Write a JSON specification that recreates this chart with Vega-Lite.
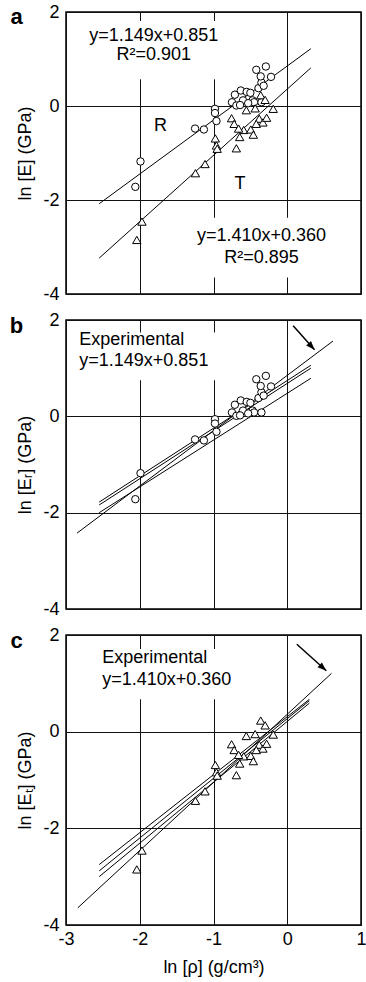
{
  "$schema": "https://vega.github.io/schema/vega-lite/v6.json",
  "padding": {"left": 9, "top": 2, "right": 3, "bottom": 5},
  "background": "white",
  "datasets": {
    "R": [
      {"x": -1.99, "y": -1.18}, {"x": -2.06, "y": -1.72}, {"x": -1.25, "y": -0.48}, {"x": -1.13, "y": -0.50},
      {"x": -0.98, "y": -0.06}, {"x": -0.98, "y": -0.15}, {"x": -0.96, "y": -0.32}, {"x": -0.75, "y": 0.08},
      {"x": -0.71, "y": 0.24}, {"x": -0.69, "y": 0.01}, {"x": -0.63, "y": 0.33}, {"x": -0.60, "y": 0.12},
      {"x": -0.55, "y": 0.30}, {"x": -0.50, "y": 0.28}, {"x": -0.47, "y": 0.12}, {"x": -0.45, "y": 0.08},
      {"x": -0.53, "y": 0.06}, {"x": -0.39, "y": 0.38}, {"x": -0.35, "y": 0.50}, {"x": -0.36, "y": 0.63},
      {"x": -0.42, "y": 0.77}, {"x": -0.29, "y": 0.84}, {"x": -0.22, "y": 0.62}, {"x": -0.32, "y": 0.43},
      {"x": -0.35, "y": 0.08}, {"x": -0.64, "y": 0.02}
    ],
    "T": [
      {"x": -2.04, "y": -2.85}, {"x": -1.97, "y": -2.46}, {"x": -1.245, "y": -1.43}, {"x": -1.115, "y": -1.235},
      {"x": -0.975, "y": -0.69}, {"x": -0.96, "y": -0.84}, {"x": -0.95, "y": -0.91}, {"x": -0.755, "y": -0.26},
      {"x": -0.72, "y": -0.38}, {"x": -0.69, "y": -0.90}, {"x": -0.645, "y": -0.66}, {"x": -0.59, "y": -0.51},
      {"x": -0.555, "y": -0.09}, {"x": -0.495, "y": -0.50}, {"x": -0.46, "y": -0.61}, {"x": -0.435, "y": -0.05},
      {"x": -0.38, "y": -0.27}, {"x": -0.36, "y": 0.23}, {"x": -0.30, "y": 0.13}, {"x": -0.33, "y": -0.35},
      {"x": -0.28, "y": -0.25}, {"x": -0.19, "y": -0.06}, {"x": -0.66, "y": -0.48}, {"x": -0.42, "y": -0.38}
    ],
    "lines": [
      {"panel": "a", "x1": -2.55, "y1": -2.079, "x2": 0.32, "y2": 1.219},
      {"panel": "a", "x1": -2.55, "y1": -3.236, "x2": 0.32, "y2": 0.811},
      {"panel": "b", "x1": -2.85, "y1": -2.424, "x2": 0.62, "y2": 1.563},
      {"panel": "b", "x1": -2.55, "y1": -1.78, "x2": 0.32, "y2": 1.06},
      {"panel": "b", "x1": -2.55, "y1": -1.84, "x2": 0.32, "y2": 1.0},
      {"panel": "b", "x1": -2.55, "y1": -2.0, "x2": 0.32, "y2": 0.79},
      {"panel": "c", "x1": -2.84, "y1": -3.644, "x2": 0.6, "y2": 1.206},
      {"panel": "c", "x1": -2.55, "y1": -2.75, "x2": 0.30, "y2": 0.67},
      {"panel": "c", "x1": -2.55, "y1": -2.88, "x2": 0.30, "y2": 0.64},
      {"panel": "c", "x1": -2.55, "y1": -3.0, "x2": 0.30, "y2": 0.59}
    ],
    "boxes": [
      {"panel": "a", "bx1": -2.75, "bx2": -0.88, "by1": 0.57, "by2": 1.81},
      {"panel": "a", "bx1": -1.25, "bx2": 0.6, "by1": -3.65, "by2": -2.38},
      {"panel": "b", "bx1": -2.85, "bx2": -0.9, "by1": 0.75, "by2": 1.74},
      {"panel": "c", "bx1": -2.6, "bx2": -0.7, "by1": 0.67, "by2": 1.71}
    ],
    "arrows": [
      {"panel": "b", "x1": 0.08, "y1": 1.88, "x2": 0.37, "y2": 1.38, "angle": 138},
      {"panel": "c", "x1": 0.13, "y1": 1.81, "x2": 0.53, "y2": 1.26, "angle": 132}
    ],
    "textsA": [
      {"x": -1.81, "y": 1.49, "label": "y=1.149x+0.851"},
      {"x": -1.81, "y": 1.08, "label": "R²=0.901"},
      {"x": -1.72, "y": -0.43, "label": "R"},
      {"x": -0.64, "y": -1.67, "label": "T"},
      {"x": -0.35, "y": -2.77, "label": "y=1.410x+0.360"},
      {"x": -0.35, "y": -3.23, "label": "R²=0.895"}
    ],
    "textsLeft": [
      {"panel": "b", "x": -2.82, "y": 1.58, "label": "Experimental"},
      {"panel": "b", "x": -2.82, "y": 1.14, "label": "y=1.149x+0.851"},
      {"panel": "c", "x": -2.51, "y": 1.52, "label": "Experimental"},
      {"panel": "c", "x": -2.51, "y": 1.06, "label": "y=1.410x+0.360"}
    ],
    "panelLabels": [
      {"panel": "a", "x": -3.67, "y": 1.74, "label": "a"},
      {"panel": "b", "x": -3.67, "y": 1.74, "label": "b"},
      {"panel": "c", "x": -3.67, "y": 1.74, "label": "c"}
    ]
  },
  "vconcat": [
    {
      "width": 295, "height": 282,
      "layer": [
        {
          "data": {"name": "boxes"},
          "transform": [{"filter": "datum.panel == 'a'"}],
          "mark": {"type": "rect", "fill": "white", "stroke": null},
          "encoding": {
            "x": {"field": "bx1", "type": "quantitative"}, "x2": {"field": "bx2"},
            "y": {"field": "by1", "type": "quantitative"}, "y2": {"field": "by2"}
          }
        },
        {
          "data": {"name": "lines"},
          "transform": [{"filter": "datum.panel == 'a'"}],
          "mark": {"type": "rule", "color": "#000", "strokeWidth": 1},
          "encoding": {
            "x": {"field": "x1", "type": "quantitative", "scale": {"domain": [-3, 1], "nice": false, "zero": false},
                  "axis": {"values": [-3, -2, -1, 0, 1], "labels": false, "title": null}},
            "y": {"field": "y1", "type": "quantitative", "scale": {"domain": [-4, 2], "nice": false, "zero": false},
                  "axis": {"values": [-4, -2, 0, 2], "labelExpr": "'' + datum.value", "title": "ln [E] (GPa)"}},
            "x2": {"field": "x2"}, "y2": {"field": "y2"}
          }
        },
        {
          "data": {"name": "R"},
          "mark": {"type": "point", "shape": "circle", "filled": true, "fill": "white", "stroke": "#000", "strokeWidth": 1, "size": 55, "opacity": 1},
          "encoding": {
            "x": {"field": "x", "type": "quantitative"},
            "y": {"field": "y", "type": "quantitative"}
          }
        },
        {
          "data": {"name": "T"},
          "mark": {"type": "point", "shape": "triangle-up", "filled": true, "fill": "white", "stroke": "#000", "strokeWidth": 1, "size": 70, "opacity": 1},
          "encoding": {
            "x": {"field": "x", "type": "quantitative"},
            "y": {"field": "y", "type": "quantitative"}
          }
        },
        {
          "data": {"name": "textsA"},
          "mark": {"type": "text", "align": "center", "baseline": "middle"},
          "encoding": {
            "x": {"field": "x", "type": "quantitative"},
            "y": {"field": "y", "type": "quantitative"},
            "text": {"field": "label"}
          }
        },
        {
          "data": {"name": "panelLabels"},
          "transform": [{"filter": "datum.panel == 'a'"}],
          "mark": {"type": "text", "align": "center", "baseline": "alphabetic", "fontWeight": "bold", "fontSize": 22},
          "encoding": {
            "x": {"field": "x", "type": "quantitative"},
            "y": {"field": "y", "type": "quantitative"},
            "text": {"field": "label"}
          }
        }
      ]
    },
    {
      "width": 295, "height": 289,
      "layer": [
        {
          "data": {"name": "boxes"},
          "transform": [{"filter": "datum.panel == 'b'"}],
          "mark": {"type": "rect", "fill": "white", "stroke": null},
          "encoding": {
            "x": {"field": "bx1", "type": "quantitative"}, "x2": {"field": "bx2"},
            "y": {"field": "by1", "type": "quantitative"}, "y2": {"field": "by2"}
          }
        },
        {
          "data": {"name": "lines"},
          "transform": [{"filter": "datum.panel == 'b'"}],
          "mark": {"type": "rule", "color": "#000", "strokeWidth": 1},
          "encoding": {
            "x": {"field": "x1", "type": "quantitative", "scale": {"domain": [-3, 1], "nice": false, "zero": false},
                  "axis": {"values": [-3, -2, -1, 0, 1], "labels": false, "title": null}},
            "y": {"field": "y1", "type": "quantitative", "scale": {"domain": [-4, 2], "nice": false, "zero": false},
                  "axis": {"values": [-4, -2, 0, 2], "labelExpr": "'' + datum.value", "title": "ln [Eᵣ] (GPa)"}},
            "x2": {"field": "x2"}, "y2": {"field": "y2"}
          }
        },
        {
          "data": {"name": "arrows"},
          "transform": [{"filter": "datum.panel == 'b'"}],
          "mark": {"type": "rule", "color": "#000", "strokeWidth": 1.5},
          "encoding": {
            "x": {"field": "x1", "type": "quantitative"},
            "y": {"field": "y1", "type": "quantitative"},
            "x2": {"field": "x2"}, "y2": {"field": "y2"}
          }
        },
        {
          "data": {"name": "arrows"},
          "transform": [{"filter": "datum.panel == 'b'"}],
          "mark": {"type": "point", "shape": "M0,0L-0.4,1.1L0.4,1.1Z", "filled": true, "color": "#000", "size": 260, "opacity": 1},
          "encoding": {
            "x": {"field": "x2", "type": "quantitative"},
            "y": {"field": "y2", "type": "quantitative"},
            "angle": {"field": "angle", "type": "quantitative", "scale": null}
          }
        },
        {
          "data": {"name": "R"},
          "mark": {"type": "point", "shape": "circle", "filled": true, "fill": "white", "stroke": "#000", "strokeWidth": 1, "size": 55, "opacity": 1},
          "encoding": {
            "x": {"field": "x", "type": "quantitative"},
            "y": {"field": "y", "type": "quantitative"}
          }
        },
        {
          "data": {"name": "textsLeft"},
          "transform": [{"filter": "datum.panel == 'b'"}],
          "mark": {"type": "text", "align": "left", "baseline": "middle"},
          "encoding": {
            "x": {"field": "x", "type": "quantitative"},
            "y": {"field": "y", "type": "quantitative"},
            "text": {"field": "label"}
          }
        },
        {
          "data": {"name": "panelLabels"},
          "transform": [{"filter": "datum.panel == 'b'"}],
          "mark": {"type": "text", "align": "center", "baseline": "alphabetic", "fontWeight": "bold", "fontSize": 22},
          "encoding": {
            "x": {"field": "x", "type": "quantitative"},
            "y": {"field": "y", "type": "quantitative"},
            "text": {"field": "label"}
          }
        }
      ]
    },
    {
      "width": 295, "height": 290,
      "layer": [
        {
          "data": {"name": "boxes"},
          "transform": [{"filter": "datum.panel == 'c'"}],
          "mark": {"type": "rect", "fill": "white", "stroke": null},
          "encoding": {
            "x": {"field": "bx1", "type": "quantitative"}, "x2": {"field": "bx2"},
            "y": {"field": "by1", "type": "quantitative"}, "y2": {"field": "by2"}
          }
        },
        {
          "data": {"name": "lines"},
          "transform": [{"filter": "datum.panel == 'c'"}],
          "mark": {"type": "rule", "color": "#000", "strokeWidth": 1},
          "encoding": {
            "x": {"field": "x1", "type": "quantitative", "scale": {"domain": [-3, 1], "nice": false, "zero": false},
                  "axis": {"values": [-3, -2, -1, 0, 1], "labelExpr": "'' + datum.value", "title": "ln [ρ] (g/cm³)", "labelPadding": 5, "titlePadding": 10}},
            "y": {"field": "y1", "type": "quantitative", "scale": {"domain": [-4, 2], "nice": false, "zero": false},
                  "axis": {"values": [-4, -2, 0, 2], "labelExpr": "'' + datum.value", "title": "ln [Eₜ] (GPa)"}},
            "x2": {"field": "x2"}, "y2": {"field": "y2"}
          }
        },
        {
          "data": {"name": "arrows"},
          "transform": [{"filter": "datum.panel == 'c'"}],
          "mark": {"type": "rule", "color": "#000", "strokeWidth": 1.5},
          "encoding": {
            "x": {"field": "x1", "type": "quantitative"},
            "y": {"field": "y1", "type": "quantitative"},
            "x2": {"field": "x2"}, "y2": {"field": "y2"}
          }
        },
        {
          "data": {"name": "arrows"},
          "transform": [{"filter": "datum.panel == 'c'"}],
          "mark": {"type": "point", "shape": "M0,0L-0.4,1.1L0.4,1.1Z", "filled": true, "color": "#000", "size": 260, "opacity": 1},
          "encoding": {
            "x": {"field": "x2", "type": "quantitative"},
            "y": {"field": "y2", "type": "quantitative"},
            "angle": {"field": "angle", "type": "quantitative", "scale": null}
          }
        },
        {
          "data": {"name": "T"},
          "mark": {"type": "point", "shape": "triangle-up", "filled": true, "fill": "white", "stroke": "#000", "strokeWidth": 1, "size": 70, "opacity": 1},
          "encoding": {
            "x": {"field": "x", "type": "quantitative"},
            "y": {"field": "y", "type": "quantitative"}
          }
        },
        {
          "data": {"name": "textsLeft"},
          "transform": [{"filter": "datum.panel == 'c'"}],
          "mark": {"type": "text", "align": "left", "baseline": "middle"},
          "encoding": {
            "x": {"field": "x", "type": "quantitative"},
            "y": {"field": "y", "type": "quantitative"},
            "text": {"field": "label"}
          }
        },
        {
          "data": {"name": "panelLabels"},
          "transform": [{"filter": "datum.panel == 'c'"}],
          "mark": {"type": "text", "align": "center", "baseline": "alphabetic", "fontWeight": "bold", "fontSize": 22},
          "encoding": {
            "x": {"field": "x", "type": "quantitative"},
            "y": {"field": "y", "type": "quantitative"},
            "text": {"field": "label"}
          }
        }
      ]
    }
  ],
  "spacing": 26,
  "bounds": "flush",
  "config": {
    "view": {"stroke": "#000", "strokeWidth": 1.5},
    "axis": {
      "grid": true, "gridColor": "#111", "gridWidth": 1, "gridOpacity": 1,
      "domain": false, "ticks": false,
      "labelFont": "Liberation Sans", "labelFontSize": 18, "labelColor": "#000", "labelPadding": 7,
      "labelOverlap": false, "labelFlush": false, "labelBound": false,
      "titleFont": "Liberation Sans", "titleFontSize": 18, "titleFontWeight": "normal", "titleColor": "#000", "titlePadding": 8
    },
    "text": {"font": "Liberation Sans", "fontSize": 18, "color": "#000"}
  }
}
